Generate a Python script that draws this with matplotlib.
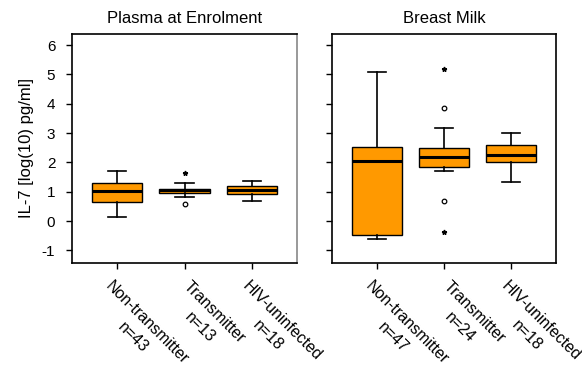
import matplotlib
matplotlib.use("Agg")
import matplotlib.pyplot as plt

plt.rcParams['font.family'] = ['Liberation Sans', 'DejaVu Sans']
plt.rcParams['axes.unicode_minus'] = False

groups = ["Non-transmitter", "Transmitter", "HIV-uninfected"]
plasma_n = [43, 13, 18]
milk_n = [47, 24, 18]

# box stats: whislo, q1, med, q3, whishi
plasma_stats = [
    [0.13, 0.66, 1.01, 1.30, 1.72],
    [0.81, 0.96, 1.05, 1.11, 1.30],
    [0.69, 0.94, 1.07, 1.19, 1.38],
]
plasma_circles = [[], [0.59], []]
plasma_stars = [[], [1.63], []]

milk_stats = [
    [-0.62, -0.49, 2.05, 2.53, 5.07],
    [1.72, 1.84, 2.18, 2.50, 3.17],
    [1.34, 2.02, 2.25, 2.59, 3.01],
]
milk_circles = [[], [3.87, 0.69], []]
milk_stars = [[], [5.18, -0.36], []]

yticks = [-1, 0, 1, 2, 3, 4, 5, 6]

W, H = 582, 372
fig = plt.figure(figsize=(W / 100, H / 100), dpi=100)

def make_ax(x0, x1, y0, y1):
    return fig.add_axes([x0 / W, 1 - y1 / H, (x1 - x0) / W, (y1 - y0) / H])

ax1 = make_ax(72, 297, 34, 263)
ax2 = make_ax(332, 556, 34, 263)

def draw(ax, stats, circles, stars, ns, title):
    bxp = []
    for s in stats:
        bxp.append(dict(whislo=s[0], q1=s[1], med=s[2], q3=s[3], whishi=s[4], fliers=[]))
    positions = [1, 2, 3]
    ax.bxp(bxp, positions=positions, widths=0.75, patch_artist=True,
           showfliers=False,
           boxprops=dict(facecolor='#FF9900', edgecolor='black', linewidth=1.0),
           medianprops=dict(color='black', linewidth=2.2),
           whiskerprops=dict(color='black', linewidth=1.2),
           capprops=dict(color='black', linewidth=1.2),
           capwidths=0.27)
    for i, (c, s) in enumerate(zip(circles, stars)):
        if c:
            ax.plot([positions[i]] * len(c), c, linestyle='none', marker='o', markersize=3.3,
                    markerfacecolor='white', markeredgecolor='black', markeredgewidth=0.9)
        if s:
            ax.plot([positions[i]] * len(s), s, linestyle='none', marker='*', markersize=3.5,
                    color='black')
    ax.set_xlim(0.333, 3.667)
    ax.set_ylim(-1.43, 6.38)
    ax.set_yticks(yticks)
    ax.set_xticks(positions)
    ax.set_xticklabels([])
    for p, g, n in zip(positions, groups, ns):
        ax.annotate(f"{g}\nn={n}", xy=(p, 0), xycoords=ax.get_xaxis_transform(),
                    xytext=(23, -16), textcoords='offset pixels',
                    rotation=-45, ha='center', va='top', multialignment='center',
                    fontsize=11.5, linespacing=1.45, annotation_clip=False)
    ax.tick_params(axis='x', length=4, width=1)
    ax.tick_params(axis='y', length=4, width=1, pad=8)
    for sp in ax.spines.values():
        sp.set_linewidth(1.2)
    ax.set_title(title, fontsize=12, pad=8)

draw(ax1, plasma_stats, plasma_circles, plasma_stars, plasma_n, "Plasma at Enrolment")
draw(ax2, milk_stats, milk_circles, milk_stars, milk_n, "Breast Milk")
ax1.spines['right'].set_color('#888888')
ax2.set_yticklabels([])
ax1.tick_params(axis='y', labelsize=11)
ax1.set_ylabel("IL-7 [log(10) pg/ml]", fontsize=12, labelpad=6)

fig.savefig("out.png", dpi=100)
